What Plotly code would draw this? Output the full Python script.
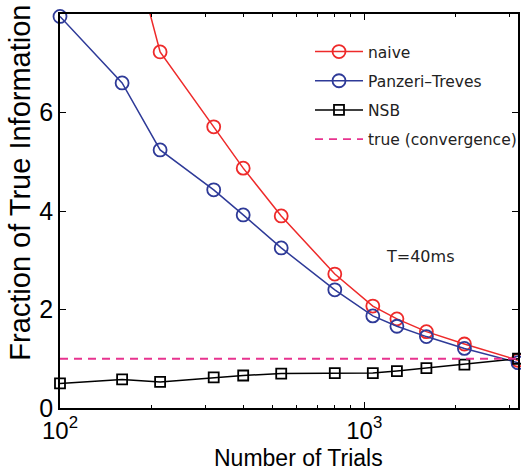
import plotly.graph_objects as go

trials = [100, 160, 213.3, 320, 400, 533.3, 800, 1066.7, 1280, 1600, 2133.3, 3200]
naive = [14.0, 10.15, 7.23, 5.71, 4.87, 3.90, 2.72, 2.07, 1.81, 1.55, 1.30, 0.97]
panzeri = [7.95, 6.60, 5.24, 4.43, 3.92, 3.25, 2.40, 1.87, 1.66, 1.45, 1.21, 0.92]
nsb = [0.50, 0.58, 0.53, 0.62, 0.66, 0.70, 0.71, 0.71, 0.75, 0.81, 0.88, 1.00]
true_level = 1.0
xtick_vals = [100, 1000]
xtick_text = ["10<sup>2</sup>", "10<sup>3</sup>"]
ytick_vals = [0, 2, 4, 6, 8]
minor_x = [200, 300, 400, 500, 600, 700, 800, 900, 2000, 3000]

RED = "#ee2a2a"
BLUE = "#2e3a98"
MAG = "#e8338f"

fig = go.Figure()
fig.add_trace(go.Scatter(x=trials, y=naive, name="naive", mode="lines+markers",
                         line=dict(color=RED, width=1.5), legendgroup="a", cliponaxis=False,
                         marker=dict(symbol="circle-open", size=13, color=RED, line=dict(width=1.8))))
fig.add_trace(go.Scatter(x=trials, y=panzeri, name="Panzeri\u2013Treves", mode="lines+markers",
                         line=dict(color=BLUE, width=1.5), legendgroup="b", cliponaxis=False,
                         marker=dict(symbol="circle-open", size=13, color=BLUE, line=dict(width=1.8))))
fig.add_trace(go.Scatter(x=trials, y=nsb, name="NSB", mode="lines+markers",
                         line=dict(color="black", width=1.5), legendgroup="c", cliponaxis=False,
                         marker=dict(symbol="square-open", size=10, color="black", line=dict(width=1.8))))
fig.add_trace(go.Scatter(x=[trials[0], trials[-1]], y=[true_level, true_level],
                         name="true (convergence)", mode="lines", legendgroup="d",
                         line=dict(color=MAG, width=1.8, dash="8px,6px")))

fig.add_annotation(x=3.065, y=3.07, xref="x", yref="y", text="T=40ms", showarrow=False,
                   font=dict(family="DejaVu Sans", size=16, color="#222"), xanchor="left")
fig.add_annotation(x=-0.088, y=0.571, xref="paper", yref="paper", text="Fraction of True Information",
                   textangle=-90, showarrow=False, xanchor="center", yanchor="middle",
                   font=dict(family="Liberation Sans", size=29, color="black"))
fig.add_annotation(x=0.521, y=-0.128, xref="paper", yref="paper", text="Number of Trials",
                   showarrow=False, xanchor="center", yanchor="middle",
                   font=dict(family="Liberation Sans", size=23, color="black"))

fig.update_layout(
    width=521, height=476,
    margin=dict(l=60, r=3, t=14, b=68, autoexpand=False),
    paper_bgcolor="white", plot_bgcolor="white",
    font=dict(family="Liberation Sans", color="black"),
    showlegend=True,
    legend=dict(x=(310 - 60) / 458, y=(408 - 35) / 394, xanchor="left", yanchor="top",
                bgcolor="rgba(255,255,255,0)", tracegroupgap=6, itemwidth=48,
                font=dict(family="DejaVu Sans", size=15.5, color="#222")),
    xaxis=dict(type="log", range=[2, 3.50515], tickvals=xtick_vals, ticktext=xtick_text,
               ticks="inside", ticklen=6, tickcolor="black", showline=True, linecolor="black",
               linewidth=1.5, mirror="allticks", showgrid=False, zeroline=False,
               tickfont=dict(size=24),
               minor=dict(tickvals=minor_x, ticks="inside", ticklen=3, tickcolor="black")),
    yaxis=dict(range=[0, 8], tickvals=ytick_vals, ticks="inside", ticklen=6,
               tickcolor="black", showline=True, linecolor="black", linewidth=1.5,
               mirror="allticks", showgrid=False, zeroline=False, tickfont=dict(size=25)),
)

fig.write_html("out.html")
